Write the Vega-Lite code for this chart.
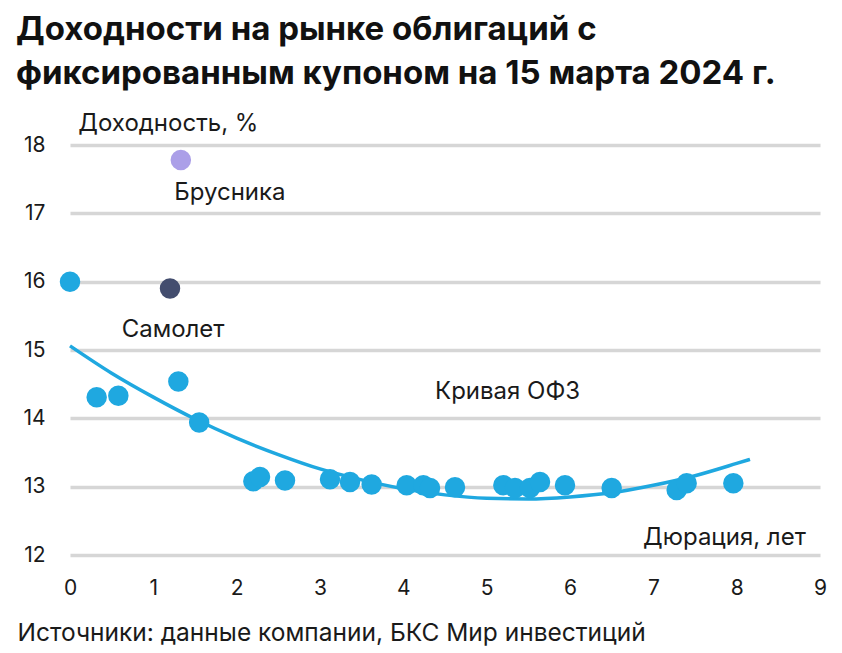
{
  "$schema": "https://vega.github.io/schema/vega-lite/v6.json",
  "width": 750,
  "height": 410,
  "autosize": "none",
  "padding": {"left": 70, "top": 145, "right": 22, "bottom": 98},
  "background": "white",
  "title": {
    "text": ["Доходности на рынке облигаций с", "фиксированным купоном на 15 марта 2024 г."],
    "anchor": "start",
    "frame": "group",
    "dx": -54,
    "offset": 21,
    "font": "Inter",
    "fontSize": 33,
    "fontWeight": "bold",
    "color": "#111111",
    "lineHeight": 44
  },
  "config": {
    "view": {"stroke": null},
    "font": "Inter"
  },
  "datasets": {
    "bonds": [
      {"duration": 0.0, "yield": 16.0, "issuer": "ОФЗ"},
      {"duration": 0.32, "yield": 14.31, "issuer": "ОФЗ"},
      {"duration": 0.58, "yield": 14.33, "issuer": "ОФЗ"},
      {"duration": 1.3, "yield": 14.54, "issuer": "ОФЗ"},
      {"duration": 1.55, "yield": 13.94, "issuer": "ОФЗ"},
      {"duration": 2.2, "yield": 13.08, "issuer": "ОФЗ"},
      {"duration": 2.28, "yield": 13.14, "issuer": "ОФЗ"},
      {"duration": 2.58, "yield": 13.09, "issuer": "ОФЗ"},
      {"duration": 3.12, "yield": 13.11, "issuer": "ОФЗ"},
      {"duration": 3.36, "yield": 13.07, "issuer": "ОФЗ"},
      {"duration": 3.62, "yield": 13.03, "issuer": "ОФЗ"},
      {"duration": 4.04, "yield": 13.02, "issuer": "ОФЗ"},
      {"duration": 4.24, "yield": 13.02, "issuer": "ОФЗ"},
      {"duration": 4.32, "yield": 12.98, "issuer": "ОФЗ"},
      {"duration": 4.62, "yield": 12.99, "issuer": "ОФЗ"},
      {"duration": 5.2, "yield": 13.02, "issuer": "ОФЗ"},
      {"duration": 5.34, "yield": 12.98, "issuer": "ОФЗ"},
      {"duration": 5.52, "yield": 12.98, "issuer": "ОФЗ"},
      {"duration": 5.64, "yield": 13.07, "issuer": "ОФЗ"},
      {"duration": 5.94, "yield": 13.02, "issuer": "ОФЗ"},
      {"duration": 6.5, "yield": 12.98, "issuer": "ОФЗ"},
      {"duration": 7.28, "yield": 12.95, "issuer": "ОФЗ"},
      {"duration": 7.4, "yield": 13.05, "issuer": "ОФЗ"},
      {"duration": 7.96, "yield": 13.05, "issuer": "ОФЗ"},
      {"duration": 1.2, "yield": 15.9, "issuer": "Самолет"},
      {"duration": 1.33, "yield": 17.78, "issuer": "Брусника"}
    ],
    "curve": [
      {"duration": 0.0, "yield": 15.06},
      {"duration": 0.5, "yield": 14.66},
      {"duration": 1.0, "yield": 14.31},
      {"duration": 1.5, "yield": 13.99},
      {"duration": 2.0, "yield": 13.71},
      {"duration": 2.5, "yield": 13.47},
      {"duration": 3.0, "yield": 13.26},
      {"duration": 3.5, "yield": 13.1},
      {"duration": 4.0, "yield": 12.97},
      {"duration": 4.5, "yield": 12.88},
      {"duration": 5.0, "yield": 12.83},
      {"duration": 5.5, "yield": 12.82},
      {"duration": 6.0, "yield": 12.85},
      {"duration": 6.5, "yield": 12.91},
      {"duration": 7.0, "yield": 13.02},
      {"duration": 7.5, "yield": 13.16},
      {"duration": 8.0, "yield": 13.34},
      {"duration": 8.16, "yield": 13.4}
    ],
    "notes": [
      {"label": "Доходность, %", "duration": 0.1, "yield": 18.31, "side": "left"},
      {"label": "Брусника", "duration": 1.25, "yield": 17.3, "side": "left"},
      {"label": "Самолет", "duration": 0.62, "yield": 15.29, "side": "left"},
      {"label": "Кривая ОФЗ", "duration": 4.38, "yield": 14.38, "side": "left"},
      {"label": "Дюрация, лет", "duration": 8.83, "yield": 12.25, "side": "right"}
    ]
  },
  "encoding": {
    "x": {
      "field": "duration",
      "type": "quantitative",
      "scale": {"domain": [0, 9], "nice": false, "zero": false},
      "axis": {
        "values": [0, 1, 2, 3, 4, 5, 6, 7, 8, 9],
        "grid": false,
        "domain": false,
        "ticks": false,
        "labelFlush": false,
        "labelFontSize": 21,
        "labelColor": "#1a1a1a",
        "labelPadding": 22,
        "title": "Источники: данные компании, БКС Мир инвестиций",
        "titleFontSize": 24.5,
        "titleFontWeight": "normal",
        "titleColor": "#1a1a1a",
        "titleAnchor": "start",
        "titleAlign": "left",
        "titleBaseline": "middle",
        "titleX": -53,
        "titleY": 78
      }
    },
    "y": {
      "field": "yield",
      "type": "quantitative",
      "scale": {"domain": [12, 18], "nice": false, "zero": false},
      "axis": {
        "values": [12, 13, 14, 15, 16, 17, 18],
        "grid": true,
        "gridColor": "#d6d6d6",
        "gridWidth": 3.5,
        "domain": false,
        "ticks": false,
        "labelFontSize": 21,
        "labelColor": "#1a1a1a",
        "labelPadding": 25,
        "title": null
      }
    }
  },
  "layer": [
    {
      "data": {"name": "curve"},
      "mark": {"type": "line", "color": "#1fa8e0", "strokeWidth": 3.5, "interpolate": "monotone"},
      "encoding": {}
    },
    {
      "data": {"name": "bonds"},
      "mark": {"type": "circle", "opacity": 1, "size": 420},
      "encoding": {
        "color": {
          "field": "issuer",
          "type": "nominal",
          "scale": {"domain": ["ОФЗ", "Самолет", "Брусника"], "range": ["#1fa8e0", "#434d6e", "#ab9fe8"]},
          "legend": null
        }
      }
    },
    {
      "data": {"name": "notes"},
      "transform": [{"filter": "datum.side === 'left'"}],
      "mark": {"type": "text", "fontSize": 24, "color": "#1a1a1a", "baseline": "middle", "align": "left"},
      "encoding": {"text": {"field": "label"}}
    },
    {
      "data": {"name": "notes"},
      "transform": [{"filter": "datum.side === 'right'"}],
      "mark": {"type": "text", "fontSize": 24, "color": "#1a1a1a", "baseline": "middle", "align": "right"},
      "encoding": {"text": {"field": "label"}}
    }
  ]
}
